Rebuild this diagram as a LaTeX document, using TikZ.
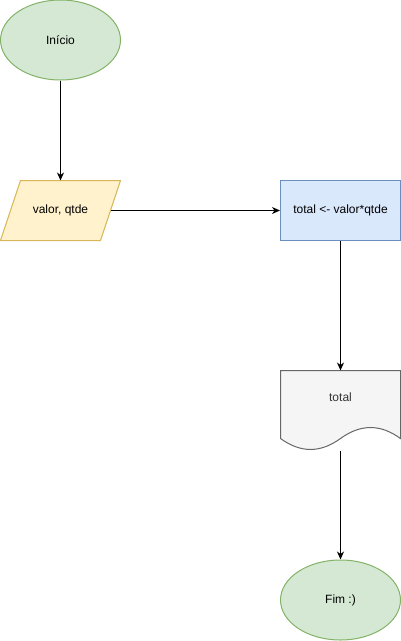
\documentclass[tikz,border=0pt]{standalone}
\usepackage{fontspec}
\setmainfont{Liberation Sans}
\usetikzlibrary{shapes.geometric,arrows.meta}
\definecolor{gfill}{HTML}{D5E8D4}
\definecolor{gline}{HTML}{82B366}
\definecolor{yfill}{HTML}{FFF2CC}
\definecolor{yline}{HTML}{D6B656}
\definecolor{bfill}{HTML}{DAE8FC}
\definecolor{bline}{HTML}{6C8EBF}
\definecolor{dfill}{HTML}{F5F5F5}
\definecolor{dline}{HTML}{666666}
\definecolor{dtext}{HTML}{333333}
\begin{document}
\begin{tikzpicture}[x=1pt,y=-1pt,
  every node/.style={font=\fontsize{12}{14}\selectfont, inner sep=0pt},
  term/.style={ellipse, draw=gline, fill=gfill, line width=1pt, minimum width=120pt, minimum height=80pt},
  procbox/.style={rectangle, draw=bline, fill=bfill, line width=1pt, minimum width=120pt, minimum height=60pt},
  conn/.style={line width=1pt, -{Stealth[length=8pt,width=7pt,inset=2.5pt]}}]
\useasboundingbox (0,0) rectangle (401,641);
% Inicio
\node[term] (inicio) at (60.5,40) {Início};
% input parallelogram
\path[fill=yfill, draw=yline, line width=1pt] (20.5,180.5) -- (120.5,180.5) -- (100.5,240.5) -- (0.5,240.5) -- cycle;
\node (entrada) at (60.5,210.5) {valor, qtde};
\coordinate (entradaT) at (60.5,180.5);
\coordinate (entradaR) at (110.5,210.5);
% process
\node[procbox] (calc) at (340.5,210.5) {total <- valor*qtde};
% document
\path[fill=dfill, draw=dline, line width=1pt] (280.5,370.5) -- (400.5,370.5) -- (400.5,438.5)
  .. controls (380.5,423.9) and (360.5,423.9) .. (340.5,438.5)
  .. controls (320.5,453.1) and (300.5,453.1) .. (280.5,438.5) -- cycle;
\node[text=dtext] (saida) at (340.5,397) {total};
\coordinate (saidaT) at (340.5,370.5);
\coordinate (saidaB) at (340.5,450.5);
% Fim
\node[term] (fim) at (340.5,600) {Fim :)};
% connectors
\draw[conn] (inicio) -- (entradaT);
\draw[conn] (entradaR) -- (calc.west);
\draw[conn] (calc.south) -- (saidaT);
\draw[conn] (saidaB) -- (fim);
\end{tikzpicture}
\end{document}
